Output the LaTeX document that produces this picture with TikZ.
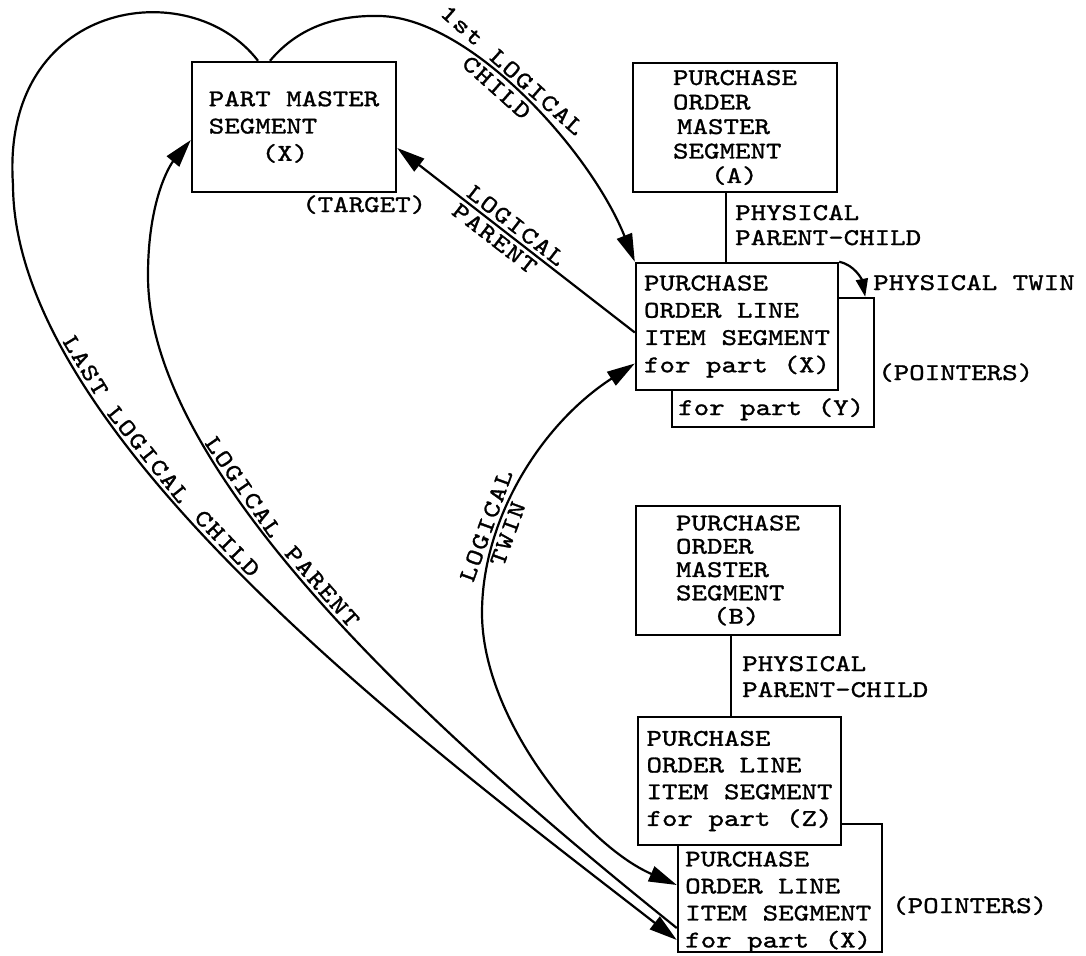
\documentclass[tikz,border=0pt]{standalone}
\usepackage{fontspec}
\newfontfamily\tw{lmmono10-regular}[Extension=.otf, FakeStretch=1.23, FakeBold=1.2]
\newfontfamily\twl{lmmono10-regular}[Extension=.otf, FakeStretch=1.23, LetterSpace=6, FakeBold=1.2]
\usetikzlibrary{arrows.meta}
\begin{document}
\begin{tikzpicture}[x=1pt, y=-1pt,
  >={Triangle[length=28pt,width=16pt]},
  seg/.style={draw, line width=2.4pt, fill=white, inner sep=0pt, align=left,
    font=\tw\fontsize{24}{27.3}\selectfont},
  lbl/.style={inner sep=0pt, align=left, font=\tw\fontsize{24}{27}\selectfont},
  pathlbl/.style={sloped, inner sep=3pt, font=\twl\fontsize{24}{26}\selectfont},
  link/.style={line width=2.2pt},
  smalltip/.style={-{Triangle[length=18pt,width=12pt]}}]
\useasboundingbox (0,0) rectangle (1086,955);

% ---------- segments ----------
\node[seg, minimum width=204pt, minimum height=130pt] (pm) at (294,127)
  {PART MASTER\\SEGMENT\\\hspace*{53pt}(X)};
\node[lbl, anchor=base west] (tgt) at (302,212) {(TARGET)};

\node[seg, minimum width=204pt, minimum height=129pt,
  font=\tw\fontsize{24}{24.5}\selectfont] (ordA) at (735,127.5)
  {PURCHASE\\ORDER\\\hspace*{4pt}MASTER\\SEGMENT\\\hspace*{38pt}(A)};

\node[seg, minimum width=202pt, minimum height=129pt] (lineY) at (773,362.5) {};
\node[lbl, anchor=base west] (partY) at (678,415) {for part (Y)};
\node[seg, minimum width=202pt, minimum height=127pt] (lineX) at (737,326.5)
  {PURCHASE\\ORDER LINE\\ITEM SEGMENT\\for part (X)};

\node[seg, minimum width=204pt, minimum height=129pt,
  font=\tw\fontsize{24}{23.3}\selectfont] (ordB) at (738,570.5)
  {PURCHASE\\ORDER\\MASTER\\SEGMENT\\\hspace*{37pt}(B)};

\node[seg, minimum width=204pt, minimum height=128pt] (lineX2) at (780,888) {};
\node[lbl, anchor=north west] (lineX2txt) at (685,851.3)
  {PURCHASE\\ORDER LINE\\ITEM SEGMENT\\for part (X)};
\node[seg, minimum width=203pt, minimum height=128pt,
  font=\tw\fontsize{24}{26.7}\selectfont] (lineZ) at (739.5,781)
  {PURCHASE\\ORDER LINE\\ITEM SEGMENT\\for part (Z)};

% ---------- free labels ----------
\node[lbl, anchor=base west] (ppcA1) at (735,220) {PHYSICAL};
\node[lbl, anchor=base west] (ppcA2) at (735,245) {PARENT-CHILD};
\node[lbl, anchor=base west] (ppcB1) at (742,671) {PHYSICAL};
\node[lbl, anchor=base west] (ppcB2) at (742,697) {PARENT-CHILD};
\node[lbl, anchor=base west] (ptw) at (873,290) {PHYSICAL TWIN};
\node[lbl, anchor=base west] (ptr1) at (878,380) {(POINTERS)};
\node[lbl, anchor=base west] (ptr2) at (892,913) {(POINTERS)};

% ---------- physical parent-child ----------
\draw[link] ([xshift=-9pt]ordA.south) -- ([xshift=-9pt]ordA.south |- lineX.north);
\draw[link] ([xshift=-7pt]ordB.south) -- ([xshift=-7pt]ordB.south |- lineZ.north);

% ---------- physical twin ----------
\draw[link, smalltip] (lineX.north east) .. controls (855,265) and (862,280)
  .. ([xshift=-10pt]lineY.north east);

% ---------- 1st logical child ----------
\draw[link, ->] ([xshift=-24pt]pm.north) .. controls (300,25) and (340,15) .. (380,16)
  .. controls (470,18) and (590,150) .. (lineX.north west)
  node[pathlbl, pos=0.43, above] (lc1a) {1st LOGICAL}
  node[pathlbl, pos=0.43, below] (lc1b) {CHILD};

% ---------- logical parent (short) ----------
\draw[link, <-] ([yshift=-21pt]pm.east) -- ([yshift=-6pt]lineX.west)
  node[pathlbl, pos=0.47, above] (lpa) {LOGICAL}
  node[pathlbl, pos=0.44, below] (lpb) {PARENT};

% ---------- last logical child ----------
\draw[link, ->] ([xshift=-36pt]pm.north) .. controls (190,-28) and (0,0) .. (13,185)
  .. controls (14,440) and (435,752) .. ([yshift=-52pt]lineX2.west)
  node[pathlbl, pos=0.235, above] (llc1) {LAST}
  node[pathlbl, pos=0.345, above] (llc2) {LOGICAL}
  node[pathlbl, pos=0.455, above] (llc3) {CHILD};

% ---------- logical parent (long) ----------
\draw[link, <-] ([yshift=-13pt]pm.west) .. controls (170,165) and (148,200) .. (148,275)
  .. controls (147,480) and (455,750) .. ([yshift=-40pt]lineX2.west)
  node[pathlbl, pos=0.33, above] (lpl1) {LOGICAL}
  node[pathlbl, pos=0.475, above] (lpl2) {PARENT};

% ---------- logical twin ----------
\draw[link, <->] ([yshift=-37pt]lineX.west) .. controls (540,425) and (482,520) .. (482,613)
  node[pathlbl, pos=0.7, above] (ltwa) {LOGICAL}
  node[pathlbl, pos=0.7, below] (ltwb) {TWIN}
  .. controls (482,720) and (585,845) .. ([yshift=3pt]lineX2.west);
\end{tikzpicture}
\end{document}
